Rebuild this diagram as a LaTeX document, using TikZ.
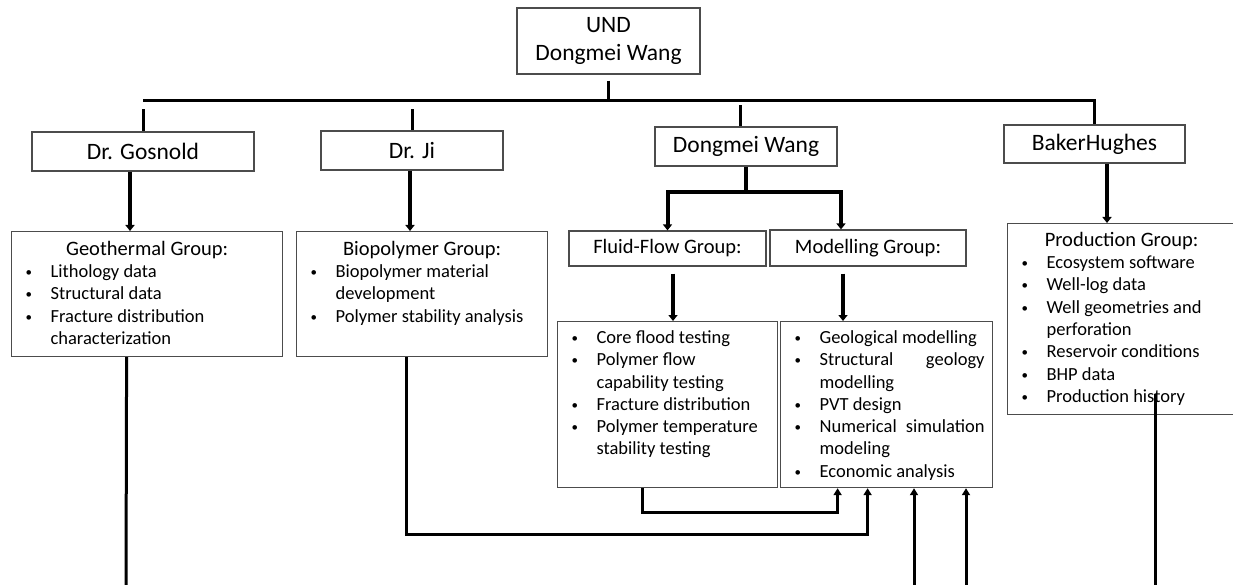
\documentclass[tikz,border=0pt]{standalone}
\usepackage{fontspec}
\setmainfont{Carlito}
\usetikzlibrary{arrows.meta,calc}

% list helpers for the group boxes
\newcommand{\bitem}[1]{\par\hangindent=26pt\hangafter=1\noindent
  \makebox[26pt][l]{\hspace{1pt}\raisebox{1pt}{\scalebox{0.7}{\textbullet}}}#1}
\newcommand{\ghead}[1]{{\centering\leftskip=0pt plus 1fil\fontsize{20.5}{24}\selectfont #1\par}}
\newcommand{\grouplist}[4]{\parbox[t][#2][t]{#1}{\fontsize{18.5}{22.3}\selectfont
  \rightskip=8pt plus 1fil\leftskip=13pt\parfillskip=0pt plus 1fil\vspace*{#3}#4}}

\begin{document}
\begin{tikzpicture}[x=1pt,y=-1pt,
  hbox/.style={draw=black!70,line width=1.2pt,inner sep=0pt,align=center,
    font=\fontsize{23.5}{28.5}\selectfont},
  sbox/.style={hbox,font=\fontsize{20.5}{24}\selectfont},
  lbox/.style={draw=black!70,line width=1.2pt,inner sep=0pt,anchor=north west},
  bus/.style={line width=3pt},
  harrow/.style={line width=4pt,-{Triangle[width=9pt,length=6pt]}},
  larrow/.style={line width=3pt,-{Triangle[width=8pt,length=7pt]}}]
  \path[use as bounding box] (0,0) rectangle (1233,585);
  \clip (0,0) rectangle (1233,585);

  % heads
  \node[hbox,minimum width=183pt,minimum height=66pt] (und) at (608.5,41) {UND\\Dongmei Wang};
  \node[hbox,minimum width=222pt,minimum height=39pt] (gos) at (143,151.5) {Dr. Gosnold};
  \node[hbox,minimum width=182pt,minimum height=39pt] (ji) at (412,150.5) {Dr. Ji};
  \node[hbox,minimum width=182pt,minimum height=39pt] (dw) at (746,146.5) {Dongmei Wang};
  \node[hbox,minimum width=181pt,minimum height=38pt] (bh) at (1094.5,144) {BakerHughes};
  \node[sbox,minimum width=197pt,minimum height=35pt] (ff) at (667.5,248.5) {Fluid-Flow Group:};
  \node[sbox,minimum width=196pt,minimum height=36pt] (mod) at (868,248) {Modelling Group:};

  % groups
  \node[lbox] (geo) at (11,231) {\grouplist{271pt}{125pt}{9.5pt}{\ghead{Geothermal Group:}%
    \bitem{Lithology data}\bitem{Structural data}\bitem{Fracture distribution\newline characterization}}};
  \node[lbox] (bio) at (296,231) {\grouplist{251pt}{125pt}{9.5pt}{\ghead{Biopolymer Group:}%
    \bitem{Biopolymer material\newline development}\bitem{Polymer stability analysis}}};
  \node[lbox] (fl) at (557,321) {\grouplist{220pt}{166pt}{9pt}{%
    \bitem{Core flood testing}\bitem{Polymer flow\newline capability testing}%
    \bitem{Fracture distribution}\bitem{Polymer temperature\newline stability testing}}};
  \node[lbox] (ml) at (780,321) {\grouplist{212pt}{166pt}{9pt}{%
    \bitem{Geological modelling}\bitem{Structural\hspace{\fill}geology\newline modelling}%
    \bitem{PVT design}\bitem{Numerical\hspace{\fill}simulation\newline modeling}\bitem{Economic analysis}}};
  \node[lbox] (prod) at (1007,223) {\grouplist{228pt}{191pt}{8.5pt}{\ghead{Production Group:}%
    \bitem{Ecosystem software}\bitem{Well-log data}\bitem{Well geometries and\newline perforation}%
    \bitem{Reservoir conditions}\bitem{BHP data}\bitem{Production history}}};

  % top tree
  \coordinate (busL) at (143,101);
  \coordinate (busR) at (1094.5,101);
  \draw[bus] (busL) -- (busR) -- (bh.north);
  \draw[bus] ([yshift=-6pt]und.south) -- (und.south |- busL);
  \draw[bus] ([yshift=22pt]gos.north) -- (gos.north);
  \draw[bus] ([yshift=21pt]ji.north) -- (ji.north);
  \draw[bus] ([xshift=-6pt,yshift=21pt]dw.north) -- ([xshift=-6pt]dw.north);

  \draw[harrow] ([xshift=-13pt]gos.south) -- ([xshift=-13pt]gos.south |- geo.north);
  \draw[harrow] ([xshift=-2pt]ji.south) -- ([xshift=-2pt]ji.south |- bio.north);
  \draw[harrow] ([xshift=12.5pt]bh.south) -- ([xshift=12.5pt]bh.south |- prod.north);
  \coordinate (split) at (746,192);
  \draw[line width=4pt] (dw.south) -- (split);
  \draw[harrow] (split) -| (ff.north);
  \draw[harrow] (split) -| ([xshift=-27pt]mod.north);
  \draw[harrow] ([xshift=5.5pt,yshift=-7pt]ff.south) -- ([xshift=5.5pt]ff.south |- fl.north);
  \draw[harrow] ([xshift=-25pt,yshift=-7pt]mod.south) -- ([xshift=-25pt]mod.south |- ml.north);

  % links below
  \draw[larrow] ([xshift=-25pt]fl.south) -- ++(0,24) -| ([xshift=-49pt]ml.south);
  \draw[larrow] ([xshift=-16pt]bio.south) -- ++(0,177) -| ([xshift=-19pt]ml.south);
  \coordinate (in1) at (914,590);
  \coordinate (in2) at (966,590);
  \draw[larrow] (in1) -- (in1 |- ml.south);
  \draw[larrow] (in2) -- (in2 |- ml.south);
  \coordinate (out1) at (126,590);
  \coordinate (out2) at (1155,590);
  \draw[bus] ([xshift=-20.5pt]geo.south) -- (out1);
  \draw[bus] ($(prod.south -| out2)+(0,-21)$) -- (out2);
\end{tikzpicture}
\end{document}
